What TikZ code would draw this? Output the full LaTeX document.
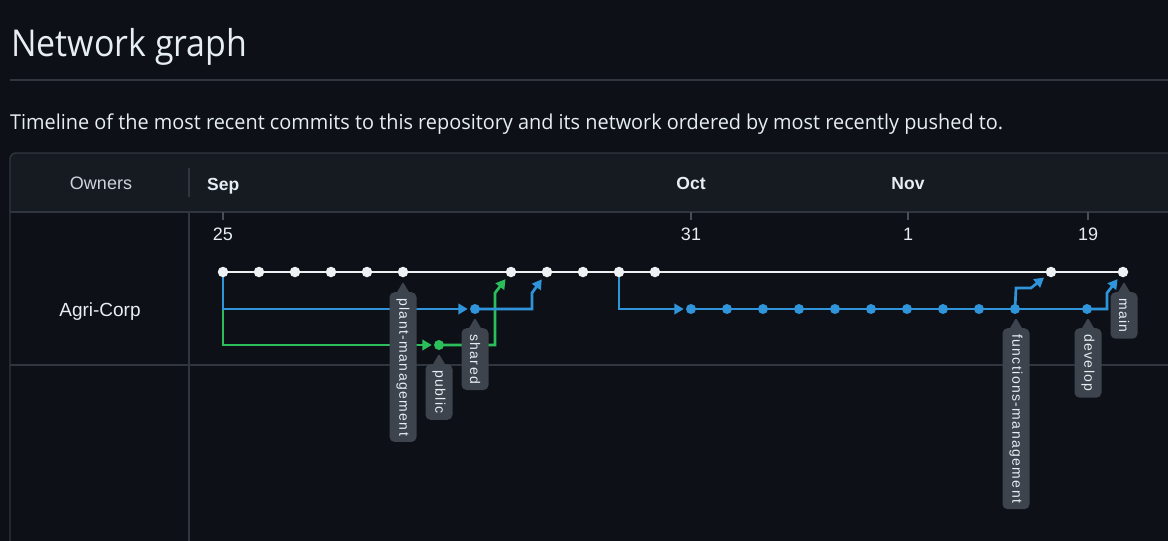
\documentclass[tikz,border=0pt]{standalone}
\usepackage{fontspec}
\usepackage{graphicx}
\usetikzlibrary{arrows.meta}
\newfontfamily\uifont{Open Sans}
\newfontfamily\arialf{Liberation Sans}
\newfontfamily\lblf{Liberation Sans}[LetterSpace=10]
\definecolor{pagebg}{HTML}{0D1117}
\definecolor{hdrbg}{HTML}{161B22}
\definecolor{gridc}{HTML}{30363D}
\definecolor{tickc}{HTML}{484F58}
\definecolor{fg}{HTML}{E6EDF3}
\definecolor{dimfg}{HTML}{CDD3DA}
\definecolor{wcol}{HTML}{EEF1F4}
\definecolor{bcol}{HTML}{2F94DA}
\definecolor{gcol}{HTML}{2DBE5C}
\definecolor{labelgray}{HTML}{3D444D}
\pgfdeclarelayer{back}
\pgfdeclarelayer{lines}
\pgfsetlayers{back,lines,main}
\tikzset{
  gridline/.style={draw=gridc, line width=1.3pt},
  tickline/.style={draw=tickc, line width=1.3pt},
  wdot/.style={circle, fill=wcol, inner sep=0pt, minimum size=10.5pt},
  bdot/.style={circle, fill=bcol, inner sep=0pt, minimum size=10pt},
  gdot/.style={circle, fill=gcol, inner sep=0pt, minimum size=10pt},
  wline/.style={draw=wcol, line width=2.8pt},
  bline/.style={draw=bcol, line width=2.7pt},
  gline/.style={draw=gcol, line width=2.7pt},
  arr/.style={-{Triangle[length=9.5pt,width=10.5pt]}, shorten >=2pt},
  marr/.style={-{Triangle[length=9.5pt,width=10.5pt]}, shorten >=3.5pt},
  lbl/.style={rotate=-90, anchor=west, fill=labelgray, rounded corners=5pt,
    minimum height=27pt, inner xsep=6pt, inner ysep=0pt, text=fg,
    font=\lblf\fontsize{14}{14}\selectfont},
  hdrtxt/.style={inner sep=0pt, anchor=base, text=fg, font=\arialf\bfseries\fontsize{17.5}{18}\selectfont},
  daytxt/.style={inner sep=0pt, anchor=base, text=fg, font=\arialf\fontsize{18}{18}\selectfont},
}
\newcommand\branchlabel[4]{%
  \node[lbl] (#1) at (#2,#3) {#4};
  \fill[labelgray, rounded corners=1pt] ([xshift=-6.5pt,yshift=-1pt]#1.west) -- ([yshift=10pt]#1.west) -- ([xshift=6.5pt,yshift=-1pt]#1.west) -- cycle;
}
\begin{document}
\begin{tikzpicture}[x=1pt,y=-1pt]
\useasboundingbox (0,0) rectangle (1168,541);
\clip (0,0) rectangle (1168,541);
\begin{pgfonlayer}{back}
  \fill[pagebg] (0,0) rectangle (1168,541);
  \draw[gridline] (10,80) -- (1170,80);
  \fill[hdrbg] (10,212) -- (10,159) arc[start angle=180,end angle=90,radius=6pt] -- (1172,153) -- (1172,212) -- cycle;
  \draw[gridline] (10,545) -- (10,159) arc[start angle=180,end angle=90,radius=6pt] -- (1172,153);
  \draw[gridline] (10,212) -- (1172,212);
  \draw[gridline] (189,168) -- (189,197);
  \draw[gridline] (189,212) -- (189,545);
  \draw[gridline] (10,365) -- (1172,365);
  \foreach \x in {223,691,908,1088} \draw[tickline] (\x,212) -- (\x,220);
\end{pgfonlayer}

% titles
\node[anchor=base west, inner sep=0pt, text=fg] (title) at (11,56)
  {\resizebox{236pt}{\height}{\uifont\fontsize{37}{40}\selectfont Network graph}};
\node[anchor=base west, inner sep=0pt, text=fg] (subtitle) at (10,129)
  {\resizebox{993pt}{\height}{\uifont\fontsize{20.5}{24}\selectfont Timeline of the most recent commits to this repository and its network ordered by most recently pushed to.}};

% header
\node[inner sep=0pt, anchor=base, text=dimfg, font=\arialf\fontsize{18}{18}\selectfont] (owners) at (101,189) {Owners};
\node[hdrtxt, anchor=base west] (sep) at (207,190) {Sep};
\node[hdrtxt] (oct) at (691,189.5) {Oct};
\node[hdrtxt] (nov) at (908,189.5) {Nov};
\node[daytxt] (d25) at (223,240) {25};
\node[daytxt] (d31) at (691,240) {31};
\node[daytxt] (d1) at (908,240) {1};
\node[daytxt] (d19) at (1088,240) {19};
\node[inner sep=0pt, anchor=base, text=fg, font=\arialf\fontsize{19}{19}\selectfont] (owner) at (100,316.5) {Agri-Corp};

% commits
\foreach \i in {0,1,2,3,4,5,8,9,10,11,12,23,25}
  \node[wdot] (w\i) at ({223+36*\i},272) {};
\foreach \i in {7,13,14,15,16,17,18,19,20,21,22,24}
  \node[bdot] (b\i) at ({223+36*\i},309) {};
\node[gdot] (g6) at (439,345) {};
\coordinate (j1) at (223,309);

\begin{pgfonlayer}{lines}
  \draw[wline] (w0.center) -- (w25.center);
  \draw[gline, arr] (j1) |- (g6);
  \draw[bline, arr] (w0.center) |- (b7);
  \draw[gline, marr] (g6.center) -- (495,345) -- (495,293) -- (w8);
  \draw[bline, marr] (b7.center) -- (532,309) -- (532,293) -- (w9);
  \draw[bline, arr] (w11.center) |- (b13);
  \draw[bline] (b13.center) -- (b24.center);
  \draw[bline, marr] (b22.center) -- (1016,288) -- (1031,288) -- (w23);
  \draw[bline, marr] (b24.center) -- (1107,309) -- (1107,293) -- (w25);
\end{pgfonlayer}

% branch labels
\branchlabel{lpm}{403}{292}{plant-management}
\branchlabel{lpub}{439}{364}{public}
\branchlabel{lsh}{475}{328}{shared}
\branchlabel{lfm}{1016}{328}{functions-management}
\branchlabel{ldev}{1088}{328}{develop}
\branchlabel{lmain}{1124}{292}{main}
\end{tikzpicture}
\end{document}
